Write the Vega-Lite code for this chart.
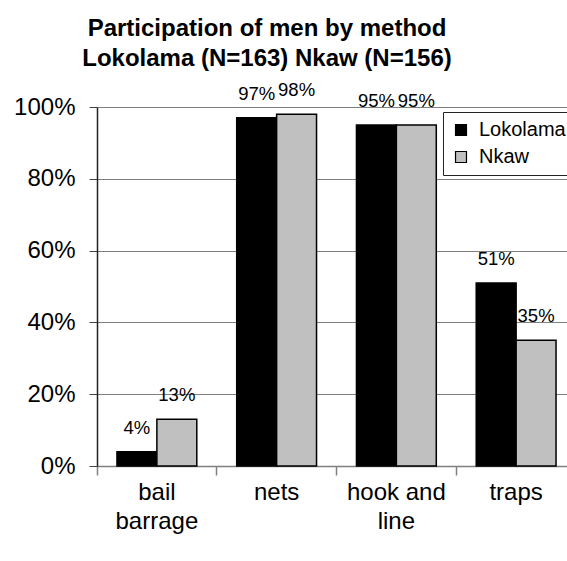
{
  "$schema": "https://vega.github.io/schema/vega-lite/v6.json",
  "width": 470,
  "height": 359,
  "autosize": {"type": "none"},
  "padding": {"left": 97, "top": 107, "right": 0, "bottom": 95},
  "background": "white",
  "config": {"font": "Liberation Sans", "view": {"stroke": null}},
  "title": {
    "text": ["Participation of men by method", "Lokolama (N=163)  Nkaw (N=156)"],
    "font": "Liberation Sans",
    "fontSize": 24,
    "fontWeight": "bold",
    "color": "black",
    "anchor": "middle",
    "frame": "group",
    "dx": -65,
    "lineHeight": 30,
    "offset": 10
  },
  "data": {
    "values": [
      {"method": "bail barrage", "site": "Lokolama", "share": 0.04},
      {"method": "bail barrage", "site": "Nkaw", "share": 0.13},
      {"method": "nets", "site": "Lokolama", "share": 0.97},
      {"method": "nets", "site": "Nkaw", "share": 0.98},
      {"method": "hook and line", "site": "Lokolama", "share": 0.95},
      {"method": "hook and line", "site": "Nkaw", "share": 0.95},
      {"method": "traps", "site": "Lokolama", "share": 0.51},
      {"method": "traps", "site": "Nkaw", "share": 0.35}
    ]
  },
  "encoding": {
    "xOffset": {
      "field": "site",
      "type": "nominal",
      "sort": ["Lokolama", "Nkaw"],
      "scale": {"paddingInner": 0, "paddingOuter": 0.5}
    },
    "y": {
      "field": "share",
      "type": "quantitative",
      "scale": {"domain": [0, 1], "nice": false},
      "axis": {
        "values": [0, 0.2, 0.4, 0.6, 0.8, 1],
        "format": ".0%",
        "title": null,
        "grid": true,
        "gridColor": "#808080",
        "gridWidth": 1,
        "domainColor": "#222222",
        "domainWidth": 1.5,
        "tickColor": "#444444",
        "tickSize": 8,
        "labelFontSize": 24,
        "labelColor": "black",
        "labelPadding": 14
      }
    }
  },
  "layer": [
    {
      "mark": {"type": "bar", "stroke": "black", "strokeWidth": 1.5},
      "encoding": {
        "x": {
          "field": "method",
          "type": "nominal",
          "sort": null,
          "scale": {"paddingInner": 0, "paddingOuter": 0, "range": [0, 479]},
          "axis": {
            "orient": "bottom",
            "title": null,
            "ticks": false,
            "domainColor": "#808080",
            "domainWidth": 1.5,
            "labelAngle": 0,
            "labelFontSize": 24,
            "labelColor": "black",
            "labelPadding": 14,
            "labelLineHeight": 29,
            "labelBaseline": "top",
            "labelExpr": "datum.label == 'bail barrage' ? ['bail', 'barrage'] : datum.label == 'hook and line' ? ['hook and', 'line'] : datum.label"
          }
        },
        "fill": {
          "field": "site",
          "type": "nominal",
          "sort": ["Lokolama", "Nkaw"],
          "scale": {"range": ["#000000", "#c0c0c0"]},
          "legend": {
            "orient": "none",
            "legendX": 346,
            "legendY": 5,
            "title": null,
            "symbolType": "square",
            "symbolSize": 120,
            "symbolStrokeColor": "black",
            "symbolStrokeWidth": 1.2,
            "labelFontSize": 20,
            "labelColor": "black",
            "labelOffset": 8,
            "rowPadding": 7,
            "padding": 8,
            "strokeColor": "#222222",
            "fillColor": "white"
          }
        }
      }
    },
    {
      "mark": {"type": "text", "baseline": "alphabetic", "dy": -18, "fontSize": 18.5, "color": "black"},
      "encoding": {
        "x": {
          "field": "method",
          "type": "nominal",
          "sort": null,
          "axis": {
            "orient": "bottom",
            "title": null,
            "labels": false,
            "domain": false,
            "grid": false,
            "ticks": true,
            "bandPosition": 0,
            "tickSize": 9,
            "tickColor": "#808080",
            "tickWidth": 1.5
          }
        },
        "text": {"field": "share", "type": "quantitative", "format": ".0%"}
      }
    }
  ],
  "resolve": {"axis": {"x": "independent"}}
}
